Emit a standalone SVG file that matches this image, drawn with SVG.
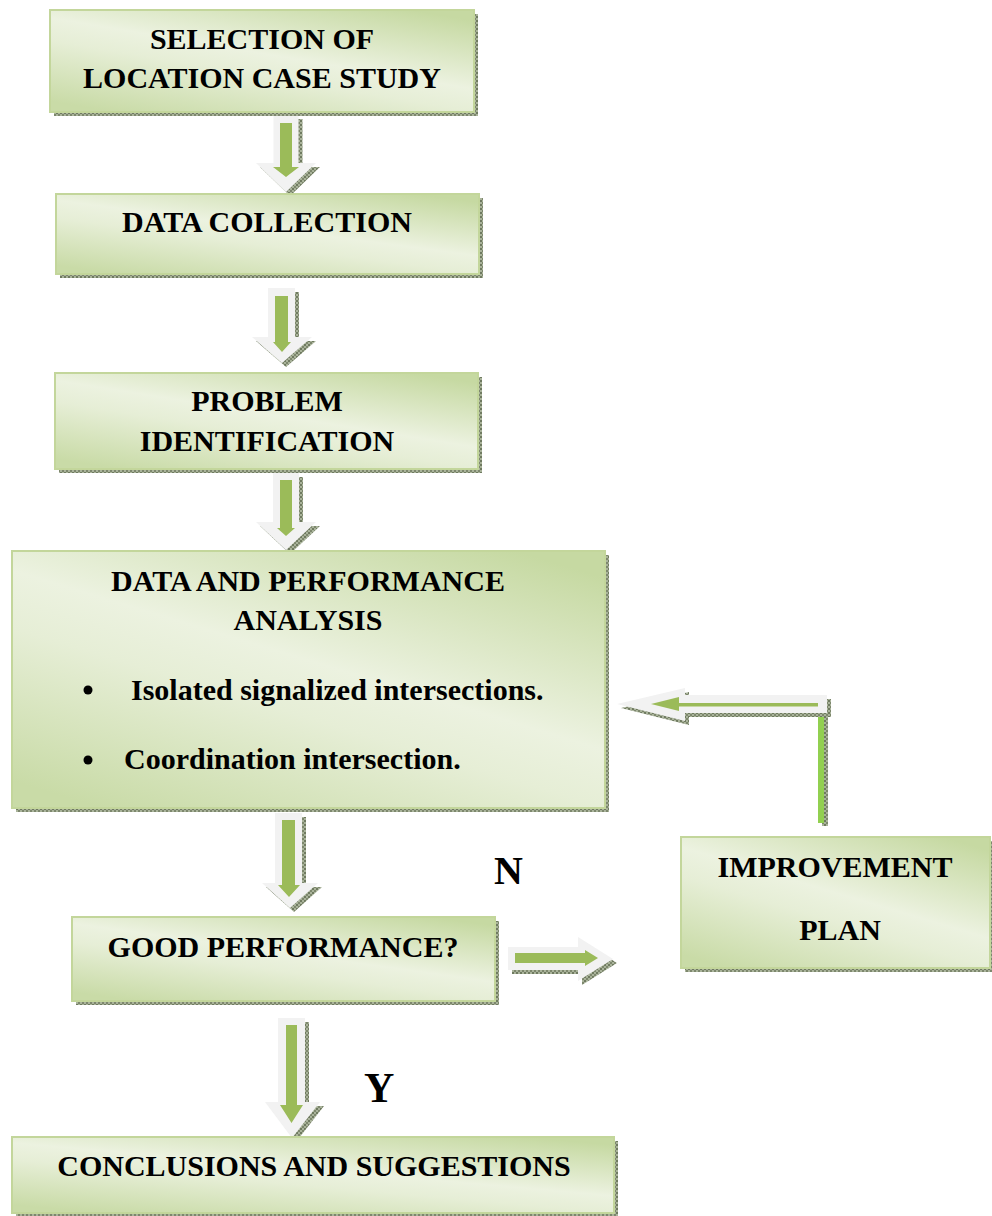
<svg xmlns="http://www.w3.org/2000/svg" width="992" height="1216" viewBox="0 0 992 1216">
<defs>
  <linearGradient id="boxfill" x1="0.85" y1="0" x2="0.15" y2="1">
    <stop offset="0" stop-color="#c6d9a2"/>
    <stop offset="0.45" stop-color="#ecf2e0"/>
    <stop offset="0.6" stop-color="#e6eed6"/>
    <stop offset="1" stop-color="#c9dba7"/>
  </linearGradient>
  <pattern id="shade" width="4" height="4" patternUnits="userSpaceOnUse">
    <rect width="4" height="4" fill="#a9b39a"/>
    <rect width="2" height="2" fill="#6f7a60"/>
    <rect x="2" y="2" width="2" height="2" fill="#7d876d"/>
  </pattern>
  <style>
    .box { fill: url(#boxfill); stroke: #c3d69b; stroke-width: 2; }
    .shadow { fill: url(#shade); }
    .txt { font-family: "Liberation Serif", "Times New Roman", serif; font-weight: bold; font-size: 30px; fill: #000; text-anchor: middle; }
    .ltxt { font-family: "Liberation Serif", "Times New Roman", serif; font-weight: bold; font-size: 30px; fill: #000; }
    .warrow { fill: #f2f2f2; }
    .garrow { fill: #9bbb59; }
  </style>
</defs>
<rect width="992" height="1216" fill="#ffffff"/>

<g id="connectors">
  <!-- arrow 1 -->
  <path class="shadow" d="M277.5,119 H302.5 V167 H320 L290,196 L260,167 H277.5 Z"/>
  <path class="warrow" d="M273.5,115 H298.5 V163 H316 L286,192 L256,163 H273.5 Z"/>
  <path class="garrow" d="M280,123 H292 V167 H299 L286,177 L273,167 H280 Z"/>
  <!-- arrow 2 -->
  <path class="shadow" d="M272,292 H299 V341 H316 L286,367 L256,341 H272 Z"/>
  <path class="warrow" d="M268,288 H295 V337 H312 L282,363 L252,337 H268 Z"/>
  <path class="garrow" d="M275,296 H288 V342 H291 L282,352 L273,342 H275 Z"/>
  <!-- arrow 3 -->
  <path class="shadow" d="M277,477 H303 V526 H320 L290,554 L260,526 H277 Z"/>
  <path class="warrow" d="M273,473 H299 V522 H316 L286,550 L256,522 H273 Z"/>
  <path class="garrow" d="M280,480 H292 V528 H295 L286,536 L277,528 H280 Z"/>
  <!-- arrow 4 -->
  <path class="shadow" d="M279,817 H306 V887 H322 L294,912 L266,887 H279 Z"/>
  <path class="warrow" d="M275,813 H302 V883 H318 L290,908 L262,883 H275 Z"/>
  <path class="garrow" d="M282,820 H295 V885 H300 L289,897 L278,885 H282 Z"/>
  <!-- arrow 5 -->
  <path class="shadow" d="M282,1022 H309 V1106 H324 L296,1142 L269,1106 H282 Z"/>
  <path class="warrow" d="M278,1018 H305 V1102 H320 L292,1138 L265,1102 H278 Z"/>
  <path class="garrow" d="M286,1025 H297 V1105 H303 L291.5,1123 L280,1105 H286 Z"/>
  <!-- N arrow to the right -->
  <path class="shadow" d="M512,951 H582 V941 L617,963 L582,985 V974 H512 Z"/>
  <path class="warrow" d="M508,947 H578 V937 L613,959 L578,981 V970 H508 Z"/>
  <path class="garrow" d="M515,953 H585 V950 L598,958 L585,966 V963 H515 Z"/>
  <!-- feedback: vertical bar and left arrow -->
  <rect class="shadow" x="822" y="717" width="6" height="109"/>
  <rect x="818" y="715" width="6" height="108" fill="#92d050"/>
  <path class="shadow" d="M831,699 V717 H689 V725 L621,708 L689,692 V699 Z"/>
  <path class="warrow" d="M827,695 V713 H685 V721 L617,704 L685,688 V695 Z"/>
  <rect x="675" y="703" width="143" height="3.5" fill="#9bbb59"/>
  <path class="garrow" d="M651,704 L679,697 V711 Z"/>
</g>

<g id="node-selection">
  <rect class="shadow" x="54" y="14" width="424" height="102"/>
  <rect class="box" x="50" y="10" width="424" height="102"/>
  <text class="txt" x="262" y="49">SELECTION OF</text>
  <text class="txt" x="262" y="88">LOCATION CASE STUDY</text>
</g>

<g id="node-data-collection">
  <rect class="shadow" x="60" y="198" width="423" height="80"/>
  <rect class="box" x="56" y="194" width="423" height="80"/>
  <text class="txt" x="267" y="232">DATA COLLECTION</text>
</g>

<g id="node-problem">
  <rect class="shadow" x="59" y="377" width="423" height="96"/>
  <rect class="box" x="55" y="373" width="423" height="96"/>
  <text class="txt" x="267" y="411">PROBLEM</text>
  <text class="txt" x="267" y="451">IDENTIFICATION</text>
</g>

<g id="node-analysis">
  <rect class="shadow" x="16" y="555" width="593" height="257"/>
  <rect class="box" x="12" y="551" width="593" height="257"/>
  <text class="txt" x="308" y="591">DATA AND PERFORMANCE</text>
  <text class="txt" x="308" y="630">ANALYSIS</text>
  <circle cx="88" cy="690" r="4.5" fill="#000"/>
  <text class="ltxt" x="131" y="700">Isolated signalized intersections.</text>
  <circle cx="88" cy="760" r="4.5" fill="#000"/>
  <text class="ltxt" x="124" y="769">Coordination intersection.</text>
</g>

<g id="node-good-performance">
  <rect class="shadow" x="76" y="921" width="423" height="84"/>
  <rect class="box" x="72" y="917" width="423" height="84"/>
  <text class="txt" x="283" y="957">GOOD PERFORMANCE?</text>
</g>

<g id="node-improvement">
  <rect class="shadow" x="685" y="841" width="309" height="131"/>
  <rect class="box" x="681" y="837" width="309" height="131"/>
  <text class="txt" x="835" y="877">IMPROVEMENT</text>
  <text class="txt" x="840" y="940">PLAN</text>
</g>

<g id="node-conclusions">
  <rect class="shadow" x="16" y="1141" width="602" height="76"/>
  <rect class="box" x="12" y="1137" width="602" height="76"/>
  <text class="txt" x="314" y="1176">CONCLUSIONS AND SUGGESTIONS</text>
</g>

<g id="labels">
  <text class="ltxt" x="494" y="884" style="font-size:40px">N</text>
  <text class="ltxt" x="364" y="1102" style="font-size:42px">Y</text>
</g>
</svg>
